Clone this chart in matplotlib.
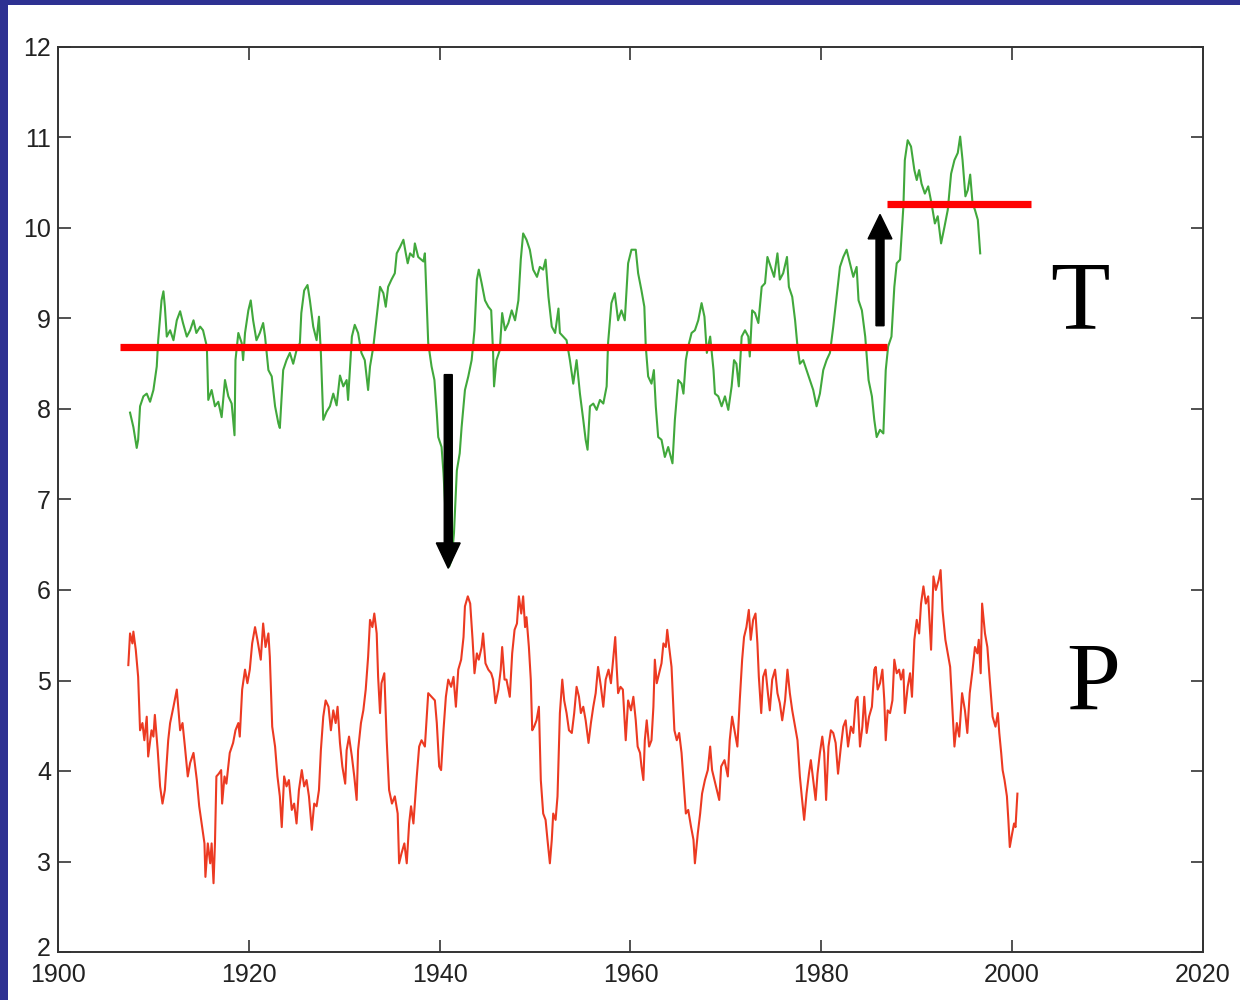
import matplotlib.pyplot as plt
import matplotlib.transforms as mtransforms
from matplotlib.patches import Rectangle

# Temperature (T) series, green
t_years = [1907.55, 1907.9, 1908.25, 1908.4, 1908.6, 1908.95, 1909.3, 1909.65, 1910.0, 1910.35,
           1910.5, 1910.85, 1911.05, 1911.2, 1911.4, 1911.75, 1912.1, 1912.45, 1912.8, 1913.1,
           1913.5, 1913.85, 1914.2, 1914.5, 1914.9, 1915.2, 1915.6, 1915.75, 1916.1, 1916.45,
           1916.8, 1917.15, 1917.5, 1917.85, 1918.2, 1918.5, 1918.6, 1918.9, 1919.25, 1919.4,
           1919.6, 1919.95, 1920.2, 1920.45, 1920.8, 1921.15, 1921.5, 1921.7, 1922.05, 1922.4,
           1922.75, 1923.1, 1923.25, 1923.6, 1923.95, 1924.3, 1924.65, 1925.0, 1925.35, 1925.5,
           1925.8, 1926.15, 1926.4, 1926.75, 1927.1, 1927.35, 1927.55, 1927.8, 1928.15, 1928.5,
           1928.85, 1929.2, 1929.55, 1929.9, 1930.25, 1930.4, 1930.8, 1931.1, 1931.45, 1931.8,
           1932.15, 1932.5, 1932.7, 1933.05, 1933.4, 1933.75, 1934.1, 1934.35, 1934.6, 1934.95,
           1935.3, 1935.5, 1935.85, 1936.2, 1936.45, 1936.65, 1936.9, 1937.25, 1937.4, 1937.75,
           1938.3, 1938.45, 1938.65, 1938.8, 1939.15, 1939.45, 1939.7, 1939.85, 1940.2, 1940.4,
           1940.55, 1940.75, 1941.0, 1941.25, 1941.5, 1941.8, 1942.1, 1942.3, 1942.65, 1943.0,
           1943.35, 1943.65, 1943.9, 1944.1, 1944.4, 1944.75, 1945.1, 1945.4, 1945.6, 1945.7,
           1945.95, 1946.3, 1946.55, 1946.85, 1947.2, 1947.55, 1947.9, 1948.25, 1948.5, 1948.75,
           1949.1, 1949.45, 1949.8, 1950.2, 1950.5, 1950.85, 1951.1, 1951.4, 1951.75, 1952.1,
           1952.45, 1952.6, 1952.95, 1953.3, 1953.65, 1954.0, 1954.35, 1954.7, 1955.05, 1955.3,
           1955.5, 1955.75, 1956.1, 1956.45, 1956.8, 1957.15, 1957.5, 1957.65, 1958.0, 1958.35,
           1958.7, 1959.05, 1959.4, 1959.75, 1960.1, 1960.55, 1960.8, 1961.15, 1961.45, 1961.6,
           1961.85, 1962.2, 1962.45, 1962.65, 1962.9, 1963.25, 1963.6, 1963.95, 1964.4, 1964.65,
           1965.0, 1965.35, 1965.55, 1965.8, 1966.05, 1966.4, 1966.75, 1967.1, 1967.45, 1967.75,
           1968.0, 1968.35, 1968.7, 1968.85, 1969.2, 1969.55, 1969.9, 1970.25, 1970.6, 1970.85,
           1971.1, 1971.35, 1971.65, 1972.0, 1972.35, 1972.5, 1972.75, 1973.05, 1973.4, 1973.75,
           1974.1, 1974.35, 1974.7, 1975.05, 1975.4, 1975.65, 1976.0, 1976.4, 1976.6, 1976.95,
           1977.25, 1977.5, 1977.75, 1978.1, 1978.45, 1978.8, 1979.15, 1979.5, 1979.85, 1980.2,
           1980.55, 1980.9, 1981.25, 1981.6, 1981.95, 1982.3, 1982.65, 1983.0, 1983.35, 1983.7,
           1983.9, 1984.25, 1984.6, 1984.95, 1985.3, 1985.55, 1985.8, 1986.15, 1986.5, 1986.75,
           1987.0, 1987.35, 1987.65, 1987.9, 1988.25, 1988.4, 1988.6, 1988.75, 1989.05, 1989.4,
           1989.75, 1990.0, 1990.25, 1990.5, 1990.85, 1991.2, 1991.55, 1991.9, 1992.2, 1992.55,
           1992.9, 1993.25, 1993.6, 1993.95, 1994.3, 1994.55, 1994.8, 1995.1, 1995.35, 1995.6,
           1995.85, 1996.1, 1996.4, 1996.65]
t_vals = [7.96, 7.80, 7.57, 7.66, 8.03, 8.14, 8.17, 8.08, 8.21, 8.47,
          8.76, 9.20, 9.30, 9.13, 8.80, 8.87, 8.76, 8.98, 9.08, 8.95,
          8.80, 8.87, 8.98, 8.84, 8.91, 8.87, 8.69, 8.10, 8.21, 8.03,
          8.08, 7.91, 8.32, 8.14, 8.06, 7.71, 8.54, 8.84, 8.73, 8.54,
          8.84, 9.09, 9.20, 8.98, 8.76, 8.84, 8.95, 8.80, 8.43, 8.36,
          8.03, 7.84, 7.79, 8.43, 8.54, 8.62, 8.50, 8.65, 8.73, 9.06,
          9.31, 9.37, 9.20, 8.91, 8.76, 9.02, 8.62, 7.88, 7.97, 8.03,
          8.17, 8.04, 8.37, 8.25, 8.32, 8.10, 8.80, 8.93, 8.84, 8.62,
          8.54, 8.21, 8.47, 8.69, 9.02, 9.35, 9.28, 9.13, 9.35, 9.43,
          9.50, 9.72, 9.79, 9.87, 9.72, 9.61, 9.72, 9.68, 9.83, 9.68,
          9.63, 9.72, 9.17, 8.73, 8.47, 8.32, 7.95, 7.69, 7.58, 7.29,
          6.99, 6.55, 6.26, 6.33, 6.63, 7.32, 7.51, 7.80, 8.21, 8.36,
          8.54, 8.87, 9.43, 9.54, 9.39, 9.20, 9.13, 9.09, 8.62, 8.25,
          8.54, 8.65, 9.06, 8.87, 8.95, 9.09, 8.98, 9.20, 9.65, 9.94,
          9.87, 9.76, 9.54, 9.46, 9.57, 9.54, 9.65, 9.24, 8.91, 8.84,
          9.11, 8.84, 8.80, 8.76, 8.54, 8.28, 8.54, 8.17, 7.88, 7.66,
          7.55, 8.03, 8.06, 7.99, 8.10, 8.06, 8.25, 8.73, 9.17, 9.28,
          8.98, 9.09, 8.98, 9.61, 9.76, 9.76, 9.50, 9.31, 9.13, 8.69,
          8.36, 8.28, 8.43, 8.03, 7.69, 7.66, 7.47, 7.58, 7.40, 7.88,
          8.32, 8.28, 8.17, 8.54, 8.69, 8.84, 8.87, 8.98, 9.17, 9.02,
          8.62, 8.80, 8.43, 8.17, 8.14, 8.03, 8.14, 7.99, 8.25, 8.54,
          8.50, 8.25, 8.80, 8.87, 8.80, 8.58, 9.09, 9.06, 8.95, 9.35,
          9.39, 9.68, 9.57, 9.46, 9.72, 9.43, 9.50, 9.68, 9.35, 9.24,
          8.98, 8.69, 8.50, 8.54, 8.43, 8.32, 8.21, 8.03, 8.17, 8.43,
          8.54, 8.62, 8.91, 9.24, 9.57, 9.68, 9.76, 9.61, 9.46, 9.57,
          9.20, 9.09, 8.80, 8.32, 8.14, 7.88, 7.69, 7.77, 7.73, 8.43,
          8.69, 8.80, 9.35, 9.61, 9.65, 9.91, 10.24, 10.75, 10.97, 10.90,
          10.64, 10.53, 10.64, 10.49, 10.38, 10.46, 10.27, 10.05, 10.13, 9.83,
          10.01, 10.20, 10.60, 10.75, 10.83, 11.01, 10.75, 10.35, 10.42, 10.59,
          10.27, 10.20, 10.09, 9.72]

# Precipitation (P) series, red
p_years = [1907.37, 1907.55, 1907.8, 1907.9, 1908.15, 1908.4, 1908.6, 1908.85, 1909.05, 1909.3,
           1909.45, 1909.8, 1910.0, 1910.15, 1910.45, 1910.7, 1910.95, 1911.2, 1911.55, 1911.75,
           1912.1, 1912.45, 1912.6, 1912.8, 1913.05, 1913.3, 1913.6, 1913.85, 1914.2, 1914.55,
           1914.8, 1915.05, 1915.35, 1915.45, 1915.7, 1915.95, 1916.1, 1916.3, 1916.45, 1916.6,
           1916.85, 1917.1, 1917.2, 1917.45, 1917.65, 1918.0, 1918.35, 1918.6, 1918.9, 1919.05,
           1919.3, 1919.6, 1919.85, 1920.1, 1920.35, 1920.65, 1920.9, 1921.25, 1921.5, 1921.75,
           1922.05, 1922.2, 1922.45, 1922.75, 1923.0, 1923.25, 1923.45, 1923.7, 1923.95, 1924.2,
           1924.5, 1924.75, 1925.0, 1925.25, 1925.55, 1925.8, 1926.05, 1926.3, 1926.6, 1926.85,
           1927.1, 1927.35, 1927.55, 1927.8, 1928.05, 1928.35, 1928.6, 1928.85, 1929.1, 1929.3,
           1929.55, 1929.8, 1930.1, 1930.25, 1930.5, 1930.8, 1931.05, 1931.3, 1931.45, 1931.75,
           1932.0, 1932.25, 1932.5, 1932.7, 1932.95, 1933.15, 1933.4, 1933.55, 1933.75, 1933.9,
           1934.2, 1934.45, 1934.7, 1935.0, 1935.3, 1935.6, 1935.75, 1936.0, 1936.3, 1936.55,
           1936.8, 1937.0, 1937.25, 1937.6, 1937.85, 1938.1, 1938.45, 1938.8, 1939.15, 1939.5,
           1939.7, 1939.95, 1940.15, 1940.4, 1940.65, 1940.9, 1941.2, 1941.45, 1941.7, 1941.95,
           1942.25, 1942.5, 1942.65, 1942.95, 1943.2, 1943.45, 1943.65, 1943.9, 1944.1, 1944.4,
           1944.55, 1944.8, 1945.1, 1945.4, 1945.6, 1945.85, 1946.15, 1946.4, 1946.55, 1946.8,
           1947.0, 1947.35, 1947.6, 1947.85, 1948.1, 1948.3, 1948.55, 1948.75, 1948.95, 1949.1,
           1949.35, 1949.55, 1949.7, 1949.9, 1950.15, 1950.4, 1950.6, 1950.85, 1951.1, 1951.3,
           1951.55, 1951.75, 1951.9, 1952.15, 1952.35, 1952.6, 1952.85, 1953.05, 1953.3, 1953.55,
           1953.85, 1954.1, 1954.35, 1954.6, 1954.8, 1955.05, 1955.3, 1955.6, 1955.85, 1956.1,
           1956.35, 1956.6, 1956.9, 1957.15, 1957.4, 1957.7, 1957.95, 1958.2, 1958.4, 1958.55,
           1958.7, 1958.95, 1959.2, 1959.5, 1959.75, 1960.05, 1960.3, 1960.55, 1960.75, 1961.0,
           1961.15, 1961.35, 1961.5, 1961.7, 1961.95, 1962.2, 1962.4, 1962.55, 1962.75, 1963.0,
           1963.25, 1963.45, 1963.7, 1963.85, 1964.05, 1964.3, 1964.6, 1964.85, 1965.1, 1965.35,
           1965.55, 1965.8, 1966.05, 1966.35, 1966.6, 1966.75, 1967.05, 1967.3, 1967.5, 1967.8,
           1968.1, 1968.35, 1968.55, 1968.8, 1969.05, 1969.3, 1969.5, 1969.85, 1970.2, 1970.4,
           1970.65, 1970.95, 1971.2, 1971.45, 1971.7, 1971.9, 1972.15, 1972.4, 1972.6, 1972.85,
           1973.1, 1973.3, 1973.45, 1973.7, 1973.9, 1974.15, 1974.4, 1974.6, 1974.85, 1975.15,
           1975.4, 1975.65, 1975.9, 1976.2, 1976.45, 1976.7, 1976.95, 1977.25, 1977.5, 1977.75,
           1977.95, 1978.2, 1978.45, 1978.7, 1978.9, 1979.15, 1979.4, 1979.6, 1979.85, 1980.1,
           1980.3, 1980.5, 1980.75, 1981.0, 1981.25, 1981.5, 1981.75, 1982.05, 1982.3, 1982.55,
           1982.8, 1983.1, 1983.35, 1983.6, 1983.8, 1984.05, 1984.3, 1984.5, 1984.75, 1985.0,
           1985.3, 1985.55, 1985.7, 1985.9, 1986.15, 1986.4, 1986.6, 1986.75, 1986.95, 1987.2,
           1987.45, 1987.65, 1987.9, 1988.15, 1988.35, 1988.6, 1988.75, 1989.05, 1989.3, 1989.5,
           1989.75, 1990.0, 1990.25, 1990.45, 1990.7, 1990.95, 1991.2, 1991.5, 1991.75, 1992.0,
           1992.3, 1992.5, 1992.7, 1993.0, 1993.25, 1993.5, 1993.75, 1993.95, 1994.2, 1994.45,
           1994.75, 1995.05, 1995.3, 1995.55, 1995.85, 1996.1, 1996.35, 1996.5, 1996.7, 1996.85,
           1997.15, 1997.4, 1997.65, 1997.95, 1998.25, 1998.5, 1998.65, 1998.85, 1999.0, 1999.2,
           1999.45, 1999.6, 1999.75, 2000.0, 2000.2, 2000.35, 2000.55]
p_vals = [5.17, 5.52, 5.41, 5.54, 5.34, 5.04, 4.45, 4.53, 4.34, 4.60,
          4.16, 4.45, 4.38, 4.62, 4.23, 3.83, 3.64, 3.79, 4.34, 4.53,
          4.71, 4.90, 4.71, 4.45, 4.53, 4.27, 3.94, 4.09, 4.20, 3.90,
          3.61, 3.42, 3.20, 2.83, 3.20, 2.98, 3.20, 2.76, 3.20, 3.94,
          3.97, 4.01, 3.64, 3.94, 3.86, 4.20, 4.31, 4.45, 4.53, 4.38,
          4.90, 5.12, 4.97, 5.12, 5.41, 5.59, 5.45, 5.23, 5.63, 5.37,
          5.52, 5.26, 4.49, 4.27, 3.94, 3.72, 3.38, 3.94, 3.83, 3.90,
          3.57, 3.64, 3.42, 3.79, 4.01, 3.83, 3.90, 3.72, 3.35, 3.64,
          3.61, 3.79, 4.23, 4.60, 4.78, 4.71, 4.45, 4.67, 4.53, 4.71,
          4.31, 4.05, 3.86, 4.23, 4.38, 4.16, 3.94, 3.68, 4.23, 4.53,
          4.67, 4.90, 5.26, 5.67, 5.59, 5.74, 5.52, 5.04, 4.64, 4.97,
          5.08, 4.34, 3.79, 3.64, 3.72, 3.53, 2.98, 3.09, 3.20, 2.98,
          3.42, 3.61, 3.42, 3.94, 4.27, 4.34, 4.27, 4.86, 4.82, 4.78,
          4.53, 4.05, 4.01, 4.45, 4.82, 5.01, 4.93, 5.04, 4.71, 5.12,
          5.23, 5.48, 5.82, 5.93, 5.85, 5.45, 5.08, 5.30, 5.23, 5.37,
          5.52, 5.19, 5.12, 5.08, 5.01, 4.75, 4.90, 5.12, 5.37, 5.01,
          5.01, 4.82, 5.30, 5.56, 5.63, 5.93, 5.74, 5.93, 5.59, 5.70,
          5.37, 5.01, 4.45, 4.49, 4.56, 4.71, 3.90, 3.53, 3.46, 3.24,
          2.98, 3.24, 3.53, 3.46, 3.72, 4.64, 5.01, 4.78, 4.64, 4.45,
          4.42, 4.64, 4.93, 4.82, 4.64, 4.71, 4.56, 4.31, 4.53, 4.71,
          4.86, 5.15, 4.93, 4.71, 5.01, 5.12, 4.97, 5.26, 5.48, 5.15,
          4.86, 4.93, 4.90, 4.34, 4.78, 4.67, 4.82, 4.56, 4.27, 4.20,
          4.05, 3.90, 4.34, 4.56, 4.27, 4.34, 4.71, 5.23, 4.97, 5.08,
          5.19, 5.41, 5.37, 5.56, 5.37, 5.15, 4.45, 4.34, 4.42, 4.20,
          3.90, 3.53, 3.57, 3.38, 3.24, 2.98, 3.31, 3.53, 3.75, 3.90,
          4.01, 4.27, 4.01, 3.90, 3.79, 3.68, 4.05, 4.12, 3.94, 4.34,
          4.60, 4.42, 4.27, 4.78, 5.23, 5.48, 5.59, 5.78, 5.45, 5.67,
          5.74, 5.41, 5.04, 4.64, 5.04, 5.12, 4.86, 4.67, 5.01, 5.12,
          4.86, 4.75, 4.56, 4.78, 5.12, 4.86, 4.67, 4.49, 4.34, 3.94,
          3.72, 3.46, 3.75, 3.97, 4.12, 3.90, 3.68, 3.97, 4.20, 4.38,
          4.20, 3.68, 4.27, 4.45, 4.42, 4.31, 3.97, 4.27, 4.49, 4.56,
          4.27, 4.49, 4.42, 4.78, 4.82, 4.27, 4.49, 4.82, 4.42, 4.60,
          4.71, 5.12, 5.15, 4.90, 4.97, 5.12, 4.78, 4.34, 4.67, 4.64,
          4.78, 5.23, 5.08, 5.12, 5.01, 5.12, 4.64, 4.93, 5.08, 4.82,
          5.45, 5.67, 5.52, 5.85, 6.04, 5.85, 5.93, 5.34, 6.15, 6.00,
          6.11, 6.22, 5.78, 5.45, 5.30, 5.15, 4.67, 4.27, 4.53, 4.38,
          4.86, 4.67, 4.42, 4.86, 5.12, 5.37, 5.30, 5.45, 5.08, 5.85,
          5.52, 5.37, 5.01, 4.60, 4.49, 4.64, 4.42, 4.20, 4.01, 3.90,
          3.72, 3.46, 3.16, 3.31, 3.42, 3.38, 3.75]

# Mean levels before and after the late-1980s shift
mean_early = 8.68
mean_late = 10.27
early_span = (1906.5, 1986.9)
late_span = (1986.9, 2002.0)

x_ticks = [1900, 1920, 1940, 1960, 1980, 2000, 2020]
y_ticks = [2, 3, 4, 5, 6, 7, 8, 9, 10, 11, 12]

plt.rcParams['font.family'] = ['Liberation Sans', 'DejaVu Sans']

fig = plt.figure(figsize=(12.4, 10), dpi=100, facecolor='#2e3192')
# white page on top of the blue slide background
fig.add_artist(Rectangle((8 / 1240, 0), 1, 995 / 1000, transform=fig.transFigure,
                         facecolor='white', edgecolor='none', zorder=-1))

ax = fig.add_axes([58 / 1240, 48 / 1000, 1145 / 1240, 905 / 1000])
ax.set_facecolor('white')

ax.plot(t_years, t_vals, color='#41a83c', lw=1.5)
ax.plot(p_years, p_vals, color='#ec3a22', lw=1.5)

# mean levels
ax.plot(early_span, [mean_early, mean_early], color='#ff0000', lw=5.2, solid_capstyle='butt')
ax.plot(late_span, [mean_late, mean_late], color='#ff0000', lw=5.2, solid_capstyle='butt')

# arrows
ax.arrow(1940.9, 8.38, 0, 6.24 - 8.38, width=0.84, head_width=2.5, head_length=0.28,
         length_includes_head=True, color='black', zorder=5)
ax.arrow(1986.15, 8.92, 0, 10.15 - 8.92, width=0.84, head_width=2.5, head_length=0.27,
         length_includes_head=True, color='black', zorder=5)

ax.text(2007.1, 9.15, 'T', fontsize=70, family='Liberation Serif', ha='center', va='center')
ax.text(2008.5, 4.93, 'P', fontsize=70, family='Liberation Serif', ha='center', va='center')

ax.set_xlim(1900, 2020)
ax.set_ylim(2, 12)
ax.set_xticks(x_ticks)
ax.set_yticks(y_ticks)
ax.tick_params(direction='in', length=9, width=1.1, top=True, right=True,
               labelsize=18, colors='#222222')
ax.tick_params(axis='x', pad=8)
ax.tick_params(axis='y', pad=5)
for s in ax.spines.values():
    s.set_color('#333333')
    s.set_linewidth(1.4)

# lift the bottom "2" a little so it clears the "1900" below it
fig.canvas.draw()
lift = mtransforms.ScaledTranslation(0, 6 / 100, fig.dpi_scale_trans)
ylabels = ax.get_yticklabels()
ylabels[0].set_transform(ylabels[0].get_transform() + lift)

fig.savefig('out.png', dpi=100, facecolor=fig.get_facecolor())
